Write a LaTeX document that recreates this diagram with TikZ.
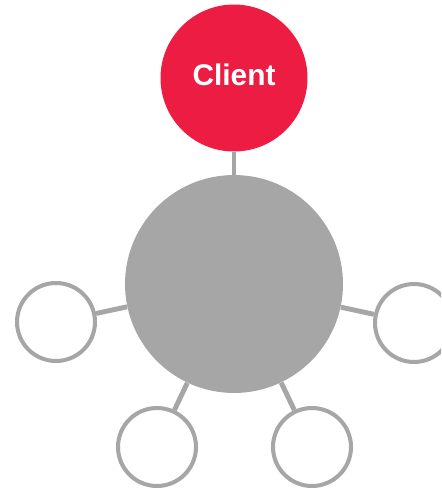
\documentclass[tikz,border=0pt]{standalone}
\usepackage{fontspec}
\setmainfont{Liberation Sans}
\definecolor{clientred}{HTML}{EC1C42}
\definecolor{hubgray}{HTML}{A6A6A6}

\begin{document}
\begin{tikzpicture}[x=0.02cm, y=-0.02cm,
	hub/.style = {circle, fill=hubgray, minimum size=4.36cm, inner sep=0pt},
	client/.style = {circle, fill=clientred, minimum size=2.94cm, inner sep=0pt, text depth=0.15cm,
		text=white, font=\bfseries\fontsize{17}{20}\selectfont},
	leaf/.style = {circle, draw=hubgray, line width=2.3pt, fill=white, minimum size=1.56cm},
	link/.style = {draw=hubgray, line width=2.8pt}]

	\clip (0,0) rectangle (441,491);

	\node[client] (client) at (234,78) {Client};
	\node[hub] (hub) at (234,284) {};

	\node[leaf] (west) at (56,322) {};
	\node[leaf] (east) at (414,323) {};
	\node[leaf] (southwest) at (157,447) {};
	\node[leaf] (southeast) at (312,447) {};

	\draw[link] (client) -- (hub);
	\draw[link] (hub) -- (west);
	\draw[link] (hub) -- (east);
	\draw[link] (hub) -- (southwest);
	\draw[link] (hub) -- (southeast);

\end{tikzpicture}
\end{document}
